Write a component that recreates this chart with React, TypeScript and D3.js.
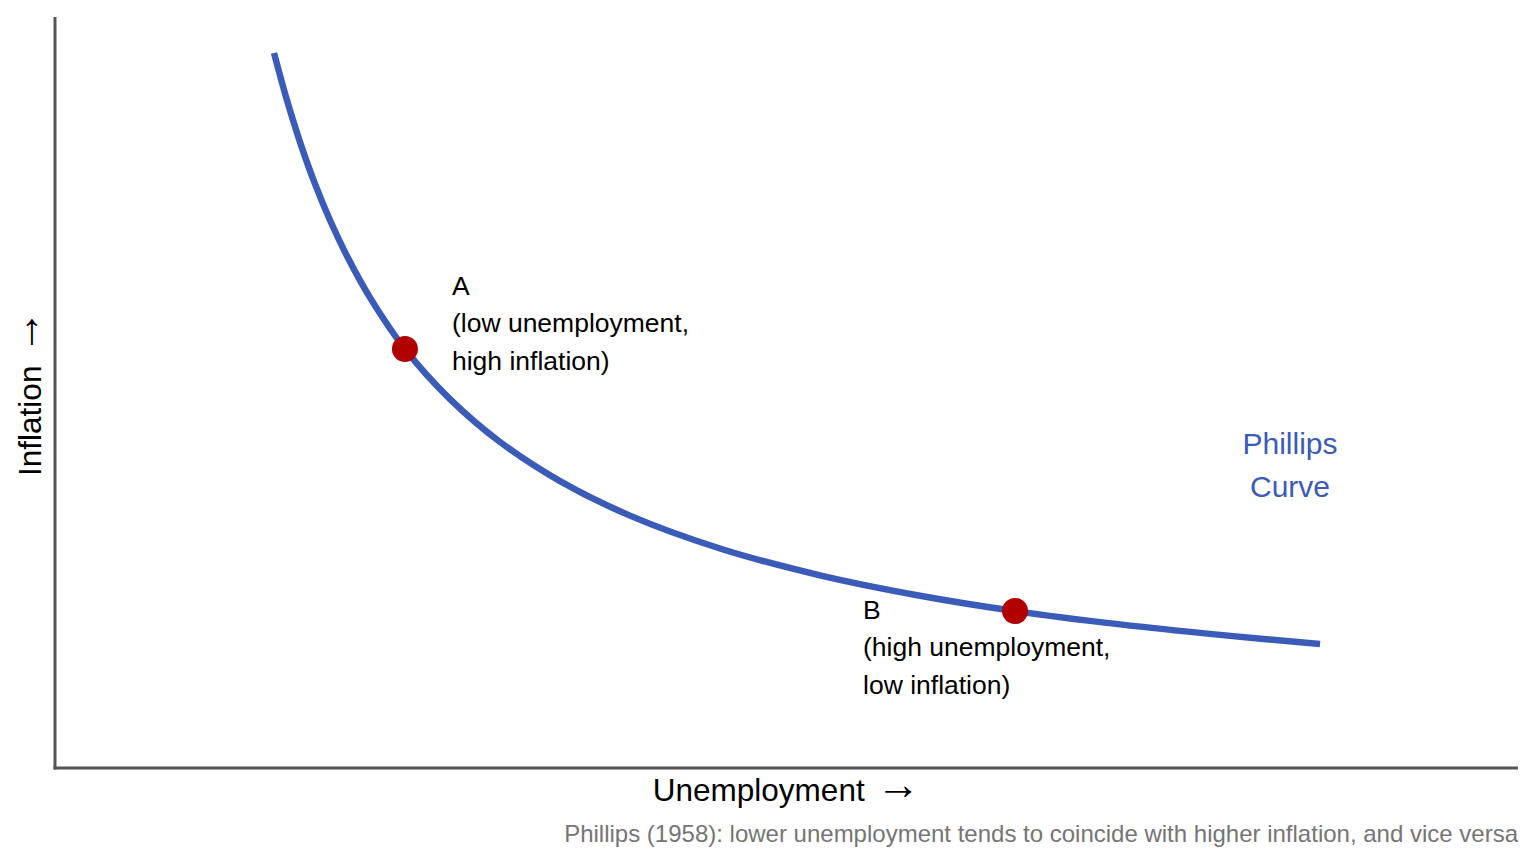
import React from "react";
import * as d3 from "d3";

// Phillips curve points (unemployment, inflation) in arbitrary units 0..10
const curveU = [1.497, 1.572, 1.627, 1.695, 1.777, 1.88, 2.003, 2.153, 2.392, 2.7, 3.042, 3.452, 3.93, 4.545, 5.229, 5.913, 6.562, 7.28, 7.963, 8.647];
const curveI = [9.533, 8.995, 8.637, 8.228, 7.788, 7.303, 6.799, 6.272, 5.587, 4.919, 4.347, 3.825, 3.365, 2.927, 2.569, 2.297, 2.093, 1.915, 1.775, 1.653];

const pointNames = ["A", "B"];
const pointU = [2.392, 6.562];
const pointI = [5.587, 2.093];
const pointLines = [
  ["A", "(low unemployment,", "high inflation)"],
  ["B", "(high unemployment,", "low inflation)"],
];

const xTitle = "Unemployment";
const yTitle = "Inflation";
const arrow = "\u2192";
const curveLabel = ["Phillips", "Curve"];
const caption = "Phillips (1958): lower unemployment tends to coincide with higher inflation, and vice versa";

const W = 1536;
const H = 864;
const FONT = "'Liberation Sans', Arial, sans-serif";
const BLUE = "#3a5cb8";
const RED = "#b00000";
const AXIS = "#555555";

export default function App() {
  const x = d3.scaleLinear().domain([0, 10]).range([55, 1518]);
  const y = d3.scaleLinear().domain([0, 10]).range([768, 18]);

  const pts: [number, number][] = curveU.map((u, i) => [u, curveI[i]]);
  const line = d3
    .line<[number, number]>()
    .x((d) => x(d[0]))
    .y((d) => y(d[1]))
    .curve(d3.curveCatmullRom.alpha(0.5));

  const labelOffsets = [
    { dx: 47, dy: -54 },
    { dx: -152, dy: 7.5 },
  ];

  return (
    <svg
      width={W}
      height={H}
      style={{ position: "fixed", left: 0, top: 0, background: "#fff" }}
      fontFamily={FONT}
    >
      <rect width={W} height={H} fill="#fff" />
      {/* axes */}
      <line x1={x(0)} x2={x(0)} y1={y(10) - 1} y2={y(0) + 1.5} stroke={AXIS} strokeWidth={3} />
      <line x1={x(0) - 1.5} x2={x(10)} y1={y(0)} y2={y(0)} stroke={AXIS} strokeWidth={3} />

      {/* curve */}
      <path d={line(pts) || ""} fill="none" stroke={BLUE} strokeWidth={6.5} />

      {/* points */}
      {pointNames.map((n, i) => (
        <circle key={n} cx={x(pointU[i])} cy={y(pointI[i])} r={13} fill={RED} />
      ))}

      {/* point labels */}
      {pointNames.map((n, i) => (
        <text
          key={"t" + n}
          x={x(pointU[i]) + labelOffsets[i].dx}
          y={y(pointI[i]) + labelOffsets[i].dy}
          fontSize={26.5}
          fill="#000"
        >
          {pointLines[i].map((t, j) => (
            <tspan key={j} x={x(pointU[i]) + labelOffsets[i].dx} dy={j === 0 ? 0 : 37.5}>
              {t}
            </tspan>
          ))}
        </text>
      ))}

      {/* curve label */}
      <text x={1290} y={454} fontSize={30} fill={BLUE} textAnchor="middle">
        <tspan x={1290} dy={0}>{curveLabel[0]}</tspan>
        <tspan x={1290} dy={42.5}>{curveLabel[1]}</tspan>
      </text>

      {/* axis titles */}
      <text
        x={(x(0) + x(10)) / 2}
        y={801}
        fontSize={31.5}
        textAnchor="middle"
        fill="#000"
        style={{ whiteSpace: "pre" }}
      >
        {xTitle + "  "}
        <tspan fontSize={44} dx={-6} dy={-2.5}>{arrow}</tspan>
      </text>
      <text
        transform={`translate(41, ${(y(0) + y(10)) / 2}) rotate(-90)`}
        fontSize={31.5}
        textAnchor="middle"
        fill="#000"
        style={{ whiteSpace: "pre" }}
      >
        {yTitle + "  "}
        <tspan fontSize={44} dx={-6} dy={-2.5}>{arrow}</tspan>
      </text>

      {/* caption */}
      <text x={1518} y={841.5} fontSize={24} textAnchor="end" fill="#757575">
        {caption}
      </text>
    </svg>
  );
}
